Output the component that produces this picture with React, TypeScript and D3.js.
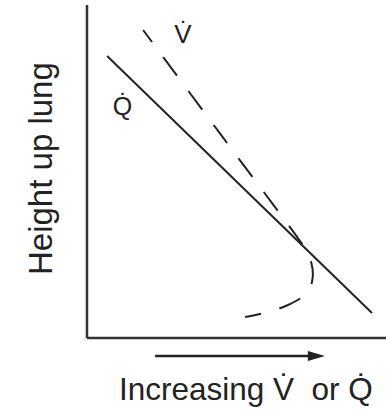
import { useMemo } from "react";
import * as d3 from "d3";

// perfusion (Q) and ventilation (V) against height up the lung, in % of axis
const flowQ = [6.7, 95];
const heightQ = [84.7, 7.5];

const flowV = [18.7, 44.5, 70.3, 73.0, 74.7, 75.3, 74.3, 71.7, 67.0, 60.3, 52.7];
const heightV = [92.5, 61.2, 30.0, 26.4, 22.8, 18.9, 15.0, 12.3, 9.9, 7.8, 6.3];

const xTitle = "Increasing V\u0307  or Q\u0307";
const yTitle = "Height up lung";

const W = 386;
const H = 411;
const MARGIN = { top: 5, right: -1, bottom: 73, left: 87 };
const FONT = "'Liberation Sans', Arial, Helvetica, sans-serif";
const INK = "#222";

export default function App() {
  const boundsWidth = W - MARGIN.left - MARGIN.right;
  const boundsHeight = H - MARGIN.top - MARGIN.bottom;

  const xScale = useMemo(
    () => d3.scaleLinear().domain([0, 100]).range([MARGIN.left, MARGIN.left + boundsWidth]),
    [boundsWidth]
  );
  const yScale = useMemo(
    () => d3.scaleLinear().domain([0, 100]).range([MARGIN.top + boundsHeight, MARGIN.top]),
    [boundsHeight]
  );

  const qLine = d3
    .line<number>()
    .x((d) => xScale(d))
    .y((_, i) => yScale(heightQ[i]))(flowQ);

  const vLine = d3
    .line<number>()
    .x((d) => xScale(d))
    .y((_, i) => yScale(heightV[i]))
    .curve(d3.curveCatmullRom.alpha(0.5))(flowV);

  const x0 = xScale(0);
  const y0 = yScale(0);
  const arrowY = y0 + 18;
  const arrowStart = xScale(22.7);
  const arrowEnd = xScale(79.3);

  return (
    <svg
      width={W}
      height={H}
      style={{ position: "absolute", left: 0, top: 0, background: "white" }}
      fontFamily={FONT}
    >
      {/* axes */}
      <line x1={x0} x2={x0} y1={yScale(100)} y2={y0} stroke="#333" strokeWidth={2.5} />
      <line x1={x0} x2={W + 2} y1={y0} y2={y0} stroke="#333" strokeWidth={2.5} />

      {/* curves */}
      <path d={qLine ?? ""} fill="none" stroke={INK} strokeWidth={2} />
      <path
        d={vLine ?? ""}
        fill="none"
        stroke={INK}
        strokeWidth={2}
        strokeDasharray="23 19"
        strokeDashoffset={8}
      />

      {/* curve labels */}
      <text x={xScale(32)} y={43} fontSize={26} textAnchor="middle" fill={INK}>
        {"V\u0307"}
      </text>
      <text x={xScale(11.8)} y={115} fontSize={25} textAnchor="middle" fill={INK}>
        {"Q\u0307"}
      </text>

      {/* arrow under x axis */}
      <line x1={arrowStart} x2={arrowEnd - 14} y1={arrowY} y2={arrowY} stroke={INK} strokeWidth={2.5} />
      <path
        d={`M${arrowEnd},${arrowY} L${arrowEnd - 17},${arrowY - 5} L${arrowEnd - 17},${arrowY + 5} Z`}
        fill={INK}
      />

      {/* titles */}
      <text x={119} y={400} fontSize={31.5} fill={INK} style={{ whiteSpace: "pre" }}>
        {xTitle}
      </text>
      <text
        transform={`translate(52,275) rotate(-90)`}
        fontSize={33}
        fill={INK}
      >
        {yTitle}
      </text>
    </svg>
  );
}
